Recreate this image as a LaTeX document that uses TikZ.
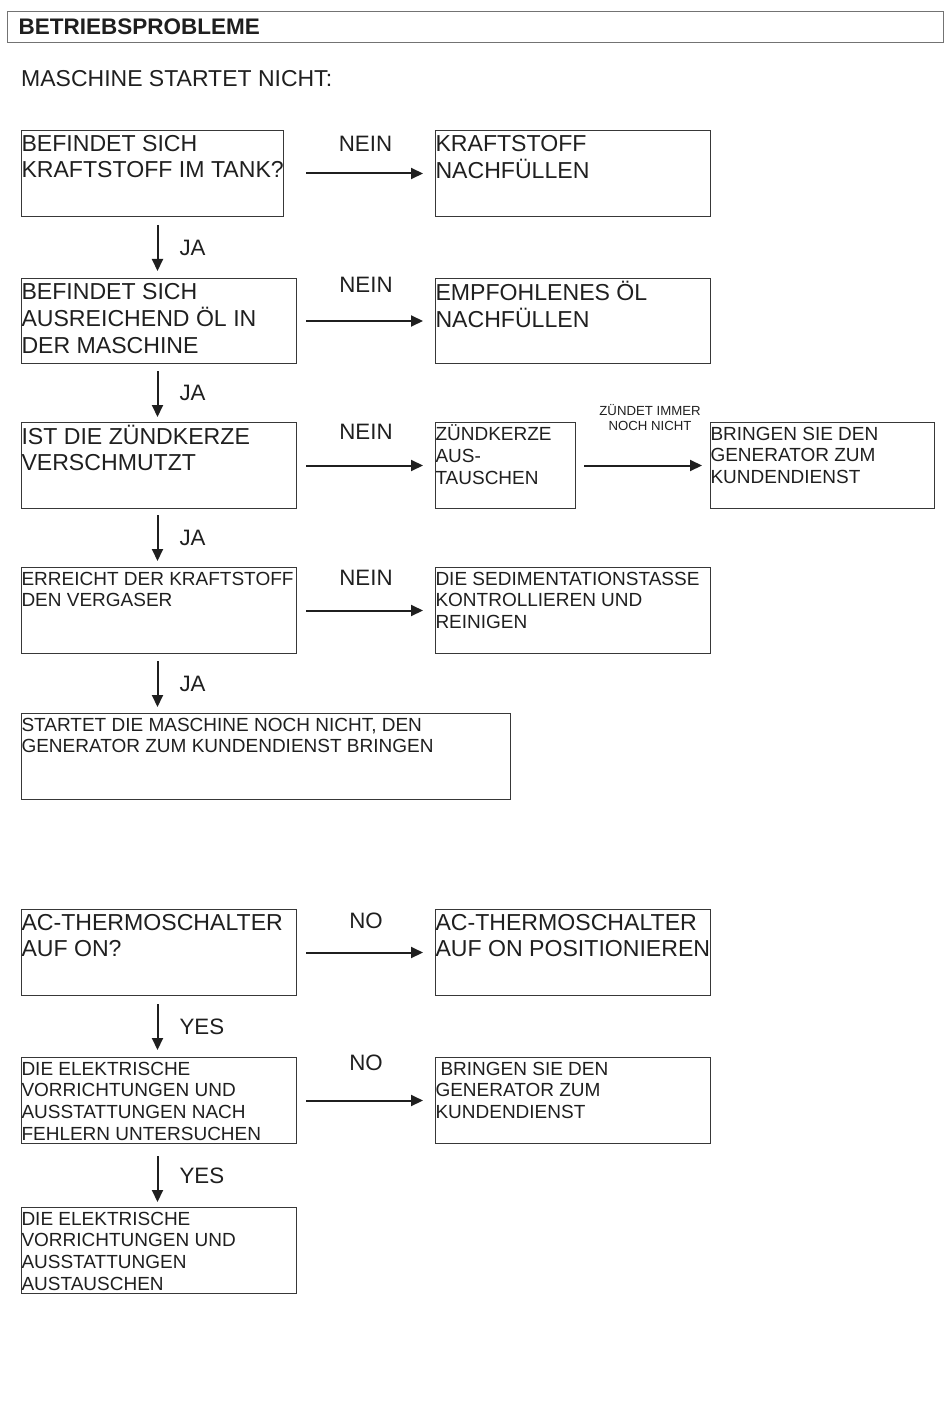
\documentclass[tikz,border=0pt]{standalone}
\usepackage{fontspec}
\setmainfont{Liberation Sans}
\usetikzlibrary{arrows.meta}

\definecolor{ink}{gray}{0.12}
\definecolor{frame}{gray}{0.22}
\definecolor{headframe}{gray}{0.45}

\newcommand{\bigtxt}{\fontsize{23.1}{26.3}\selectfont}
\newcommand{\smalltxt}{\fontsize{19}{21.8}\selectfont}
% box contents: width, height, lines
\newcommand{\bigcell}[3]{\parbox[t][#2pt][t]{#1pt}{\bigtxt\vspace*{2.6pt}%
  \begin{tabular}[t]{@{}l@{}}#3\end{tabular}}}
\newcommand{\smallcell}[3]{\parbox[t][#2pt][t]{#1pt}{\smalltxt\vspace*{2.4pt}%
  \begin{tabular}[t]{@{}l@{}}#3\end{tabular}}}

\begin{document}
\begin{tikzpicture}[%
      x=1pt, y=-1pt,
      box/.style={draw=frame, line width=1pt, inner sep=0pt, anchor=north west, text=ink},
      arr/.style={-{Triangle[length=12pt,width=11pt]}, line width=2pt, draw=ink},
      lbl/.style={inner sep=0pt, text=ink, font=\fontsize{22.3}{26}\selectfont},
      note/.style={inner sep=0pt, text=ink, align=center, font=\fontsize{13.2}{15}\selectfont},
      ]
      \useasboundingbox (0,0) rectangle (950,1420);

      \node[draw=headframe, line width=1.2pt, anchor=north west, minimum height=31pt,
            text width=914pt, align=left, inner xsep=11pt, inner ysep=0pt, text=ink,
            font=\fontsize{22.5}{26}\selectfont\bfseries] (title) at (7,11) {BETRIEBSPROBLEME};
      \node[anchor=west, inner sep=0pt, text=ink, font=\fontsize{23}{26}\selectfont]
            (heading) at (21,79) {MASCHINE STARTET NICHT:};

      % maschine startet nicht
      \node[box] (a1) at (21,130) {\bigcell{262}{86}{BEFINDET SICH\\KRAFTSTOFF IM TANK?}};
      \node[box] (b1) at (435,130) {\bigcell{275}{86}{KRAFTSTOFF\\NACHF\"ULLEN}};
      \node[box] (a2) at (21,278) {\bigcell{275}{85}{BEFINDET SICH\\AUSREICHEND \"OL IN\\DER MASCHINE}};
      \node[box] (b2) at (435,278) {\bigcell{275}{85}{EMPFOHLENES \"OL\\NACHF\"ULLEN}};
      \node[box] (a3) at (21,422) {\bigcell{275}{86}{IST DIE Z\"UNDKERZE\\VERSCHMUTZT}};
      \node[box] (b3) at (435,422) {\smallcell{140}{86}{Z\"UNDKERZE\\AUS-\\TAUSCHEN}};
      \node[box] (c3) at (710,422) {\smallcell{224}{86}{BRINGEN SIE DEN\\GENERATOR ZUM\\KUNDENDIENST}};
      \node[box] (a4) at (21,567) {\smallcell{275}{86}{ERREICHT DER KRAFTSTOFF\\DEN VERGASER}};
      \node[box] (b4) at (435,567) {\smallcell{275}{86}{DIE SEDIMENTATIONSTASSE\\KONTROLLIEREN UND\\REINIGEN}};
      \node[box] (a5) at (21,713) {\smallcell{489}{86}{STARTET DIE MASCHINE NOCH NICHT, DEN\\GENERATOR ZUM KUNDENDIENST BRINGEN}};

      \draw[arr, shorten <=22pt, shorten >=12pt] (a1) -- node[midway, above=21pt, xshift=6pt, lbl] {NEIN} (b1);
      \draw[arr, shorten <=9pt, shorten >=12pt] (a2) -- node[midway, above=27pt, lbl] {NEIN} (b2);
      \draw[arr, shorten <=9pt, shorten >=12pt] (a3) -- node[midway, above=25pt, lbl] {NEIN} (b3);
      \draw[arr, shorten <=8pt, shorten >=8pt] (b3) -- node[midway, above=34pt, xshift=7pt, note] {Z\"UNDET IMMER\\NOCH NICHT} (c3);
      \draw[arr, shorten <=9pt, shorten >=12pt] (a4) -- node[midway, above=24pt, lbl] {NEIN} (b4);

      \draw[arr, shorten <=8pt, shorten >=7pt] ([xshift=-1.5pt]a2.north |- a1.south) -- node[midway, right=21pt, lbl] {JA} ([xshift=-1.5pt]a2.north);
      \draw[arr, shorten <=7pt, shorten >=5pt] ([xshift=-1.5pt]a2.south) -- node[midway, right=21pt, lbl] {JA} ([xshift=-1.5pt]a3.north);
      \draw[arr, shorten <=6pt, shorten >=6pt] ([xshift=-1.5pt]a3.south) -- node[midway, right=21pt, lbl] {JA} ([xshift=-1.5pt]a4.north);
      \draw[arr, shorten <=7pt, shorten >=6pt] ([xshift=-1.5pt]a4.south) -- node[midway, right=21pt, lbl] {JA} ([xshift=-1.5pt]a4.south |- a5.north);

      % ac-thermoschalter
      \node[box] (a6) at (21,909) {\bigcell{275}{86}{AC-THERMOSCHALTER\\AUF ON?}};
      \node[box] (b6) at (435,909) {\bigcell{275}{86}{AC-THERMOSCHALTER\\AUF ON POSITIONIEREN}};
      \node[box] (a7) at (21,1057) {\smallcell{275}{86}{DIE ELEKTRISCHE\\VORRICHTUNGEN UND\\AUSSTATTUNGEN NACH\\FEHLERN UNTERSUCHEN}};
      \node[box] (b7) at (435,1057) {\smallcell{275}{86}{\hspace*{5pt}BRINGEN SIE DEN\\GENERATOR ZUM\\KUNDENDIENST}};
      \node[box] (a8) at (21,1207) {\smallcell{275}{86}{DIE ELEKTRISCHE\\VORRICHTUNGEN UND\\AUSSTATTUNGEN\\AUSTAUSCHEN}};

      \draw[arr, shorten <=9pt, shorten >=12pt] (a6) -- node[midway, above=23pt, lbl] {NO} (b6);
      \draw[arr, shorten <=9pt, shorten >=12pt] (a7) -- node[midway, above=29pt, lbl] {NO} (b7);
      \draw[arr, shorten <=8pt, shorten >=7pt] ([xshift=-1.5pt]a6.south) -- node[midway, right=21pt, lbl] {YES} ([xshift=-1.5pt]a7.north);
      \draw[arr, shorten <=12pt, shorten >=5pt] ([xshift=-1.5pt]a7.south) -- node[midway, right=21pt, lbl] {YES} ([xshift=-1.5pt]a8.north);
\end{tikzpicture}
\end{document}
